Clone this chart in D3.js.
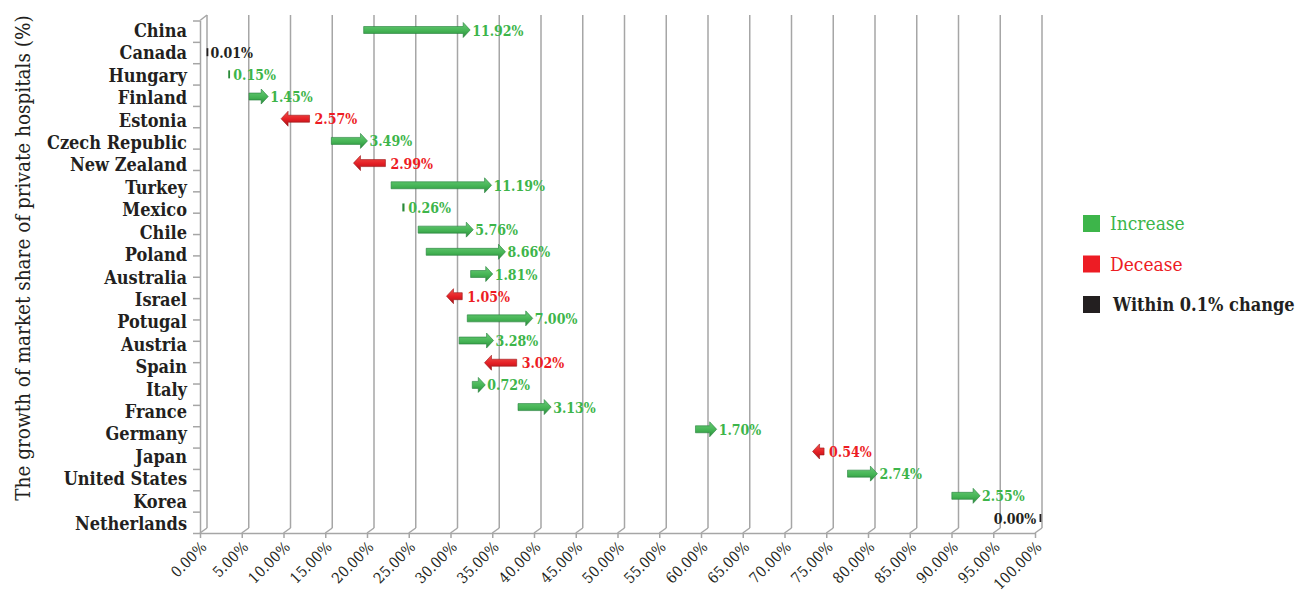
<!DOCTYPE html>
<html>
<head>
<meta charset="utf-8">
<script src="https://cdn.jsdelivr.net/npm/d3@7"></script>
<style>
  body { margin: 0; background: #fff; }
  svg text { font-family: "DejaVu Serif Condensed", "DejaVu Serif", serif; }
</style>
</head>
<body>
<div class="chart"></div>
<script>
// countries, top to bottom
var countries = ["China", "Canada", "Hungary", "Finland", "Estonia", "Czech Republic", "New Zealand",
  "Turkey", "Mexico", "Chile", "Poland", "Australia", "Israel", "Potugal", "Austria", "Spain",
  "Italy", "France", "Germany", "Japan", "United States", "Korea", "Netherlands"];

// market share where the arrow starts (%)
var startShare = [18.76, 0.04, 2.64, 5.04, 12.28, 14.89, 21.37, 22.05, 23.49, 25.29, 26.25, 31.57,
  30.57, 31.17, 30.2, 37.09, 31.77, 37.25, 58.5, 73.9, 76.71, 89.2, 99.8];

// growth of market share (%)
var change = [11.92, 0.01, 0.15, 1.45, -2.57, 3.49, -2.99, 11.19, 0.26, 5.76, 8.66, 1.81,
  -1.05, 7.00, 3.28, -3.02, 0.72, 3.13, 1.70, -0.54, 2.74, 2.55, 0.00];

var xTicks = d3.range(0, 101, 5);
var legendItems = ["Increase", "Decease", "Within 0.1% change"];
var legendColors = ["#3db54a", "#ed1c24", "#231f20"];

var width = 1296, height = 593;
var depthX = 7, depthY = -5;   // fake 3d offset of the back wall

var svg = d3.select(".chart").append("svg")
  .attr("width", width)
  .attr("height", height);

var defs = svg.append("defs");
function grad(id, c1, c2, c3) {
  var g = defs.append("linearGradient").attr("id", id)
    .attr("x1", 0).attr("y1", 0).attr("x2", 0).attr("y2", 1);
  g.append("stop").attr("offset", "0%").attr("stop-color", c1);
  g.append("stop").attr("offset", "55%").attr("stop-color", c2);
  g.append("stop").attr("offset", "100%").attr("stop-color", c3);
}
grad("gInc", "#6ccb78", "#45b455", "#2a8a38");
grad("gDec", "#f4524c", "#e31e24", "#a3161a");

var floorY = 533;
var xFront = d3.scaleLinear().domain([0, 100]).range([200, 1035]);
var xBack = d3.scaleLinear().domain([0, 100]).range([200 + depthX, 1035 + depthX]);
var yTick = d3.scaleLinear().domain([0, 24]).range([20.5, floorY]);
var yRow = d3.scalePoint().domain(countries).range([30, 518]);
var yLabel = d3.scalePoint().domain(countries).range([37, 530]);

// back wall gridlines + floor diagonals
var grid = svg.append("g").attr("class", "grid");
xTicks.forEach(function (t) {
  grid.append("line")
    .attr("x1", xBack(t)).attr("x2", xBack(t))
    .attr("y1", 15).attr("y2", floorY + depthY)
    .attr("stroke", "#a6a6a6").attr("stroke-width", 1.5);
  grid.append("line")
    .attr("x1", xFront(t)).attr("x2", xBack(t))
    .attr("y1", floorY).attr("y2", floorY + depthY)
    .attr("stroke", "#a6a6a6").attr("stroke-width", 1.5);
});
// left wall top edge
grid.append("line")
  .attr("x1", xFront(0)).attr("x2", xBack(0))
  .attr("y1", yTick(0)).attr("y2", 15)
  .attr("stroke", "#a6a6a6").attr("stroke-width", 1.5);

// x axis (front floor edge)
var xAxis = svg.append("g")
  .attr("transform", "translate(0," + floorY + ")")
  .call(d3.axisBottom(xFront).tickValues(xTicks).tickSize(5).tickSizeOuter(0)
    .tickFormat(function (d) { return d3.format(".2f")(d) + "%"; }));
xAxis.select(".domain").attr("stroke", "#a6a6a6").attr("stroke-width", 1.5);
xAxis.selectAll(".tick line").attr("stroke", "#a6a6a6").attr("stroke-width", 1.5);
xAxis.selectAll(".tick text")
  .attr("fill", "#231f20")
  .style("font-size", "15px")
  .attr("text-anchor", "end")
  .attr("dy", null)
  .attr("y", 0)
  .attr("transform", "translate(7,15) rotate(-45)");

// y axis (left wall front edge)
var yAxis = svg.append("g")
  .attr("transform", "translate(" + xFront(0) + ",0)")
  .call(d3.axisLeft(yTick).tickValues(d3.range(0, 25)).tickSize(7).tickSizeOuter(0).tickFormat(""));
yAxis.select(".domain").attr("stroke", "#a6a6a6").attr("stroke-width", 1.5);
yAxis.selectAll(".tick line").attr("stroke", "#a6a6a6").attr("stroke-width", 1.5);

// country labels
svg.append("g").selectAll("text")
  .data(countries)
  .enter().append("text")
  .attr("x", 187)
  .attr("y", function (d) { return yLabel(d); })
  .attr("text-anchor", "end")
  .attr("fill", "#231f20")
  .style("font-size", "18px")
  .style("font-weight", "bold")
  .text(function (d) { return d; });

// axis title
svg.append("text")
  .attr("transform", "translate(30,258) rotate(-90)")
  .attr("text-anchor", "middle")
  .attr("fill", "#231f20")
  .style("font-size", "20.5px")
  .text("The growth of market share of private hospitals (%)");

// arrows
var rows = countries.map(function (c, i) {
  var v = change[i];
  var kind = Math.abs(v) <= 0.1 ? "flat" : (v > 0 ? "inc" : "dec");
  return { name: c, start: startShare[i], end: startShare[i] + v, change: v, kind: kind };
});

var fillOf = { inc: "url(#gInc)", dec: "url(#gDec)", flat: "#231f20" };
var strokeOf = { inc: "#24803a", dec: "#9b1518", flat: "#231f20" };
var textOf = { inc: "#3db54a", dec: "#ed1c24", flat: "#231f20" };

var bh = 3.5, hh = 7.5, hl = 7;
function arrowPath(d) {
  var cy = yRow(d.name);
  var x0 = xBack(d.start), x1 = xBack(d.end);
  var dir = d.change >= 0 ? 1 : -1;
  var pts = [[x0, cy - bh], [x1, cy - bh], [x1, cy - hh], [x1 + dir * hl, cy],
    [x1, cy + hh], [x1, cy + bh], [x0, cy + bh]];
  return "M" + pts.join("L") + "Z";
}

var marks = svg.append("g").selectAll("g.row")
  .data(rows)
  .enter().append("g").attr("class", "row");

marks.filter(function (d) { return Math.abs(d.change) >= 0.3; })
  .append("path")
  .attr("d", arrowPath)
  .attr("fill", function (d) { return fillOf[d.kind]; })
  .attr("stroke", function (d) { return strokeOf[d.kind]; })
  .attr("stroke-width", 0.6);

marks.filter(function (d) { return Math.abs(d.change) < 0.3; })
  .append("rect")
  .attr("x", function (d) { return xBack(d.start) - 0.8; })
  .attr("y", function (d) { return yRow(d.name) - 4; })
  .attr("width", function (d) { return Math.max(1.8, xBack(d.end) - xBack(d.start)); })
  .attr("height", 8)
  .attr("fill", function (d) { return d.kind === "flat" ? "#231f20" : "#2a8a38"; });

marks.append("text")
  .attr("x", function (d) {
    if (d.start > 95) return xBack(d.start) - 4;
    if (Math.abs(d.change) < 0.3) return Math.max(xBack(d.start), xBack(d.end)) + 3;
    if (d.change > 0) return xBack(d.end) + hl + 2;
    return xBack(d.start) + 5;
  })
  .attr("y", function (d) { return yRow(d.name) + 5.5; })
  .attr("text-anchor", function (d) { return d.start > 95 ? "end" : "start"; })
  .attr("fill", function (d) { return textOf[d.kind]; })
  .style("font-size", "14px")
  .style("font-weight", "bold")
  .text(function (d) { return d3.format(".2f")(Math.abs(d.change)) + "%"; });

// legend
var legend = svg.append("g").selectAll("g")
  .data(legendItems)
  .enter().append("g")
  .attr("transform", function (d, i) { return "translate(1083," + (215 + i * 40.5) + ")"; });
legend.append("rect")
  .attr("width", 17).attr("height", 17)
  .attr("fill", function (d, i) { return legendColors[i]; });
legend.append("text")
  .attr("x", function (d, i) { return i === 2 ? 30 : 27; })
  .attr("y", 15)
  .attr("fill", function (d, i) { return legendColors[i]; })
  .style("font-size", function (d, i) { return i === 2 ? "18px" : "19px"; })
  .style("font-weight", function (d, i) { return i === 2 ? "bold" : "normal"; })
  .text(function (d) { return d; });
</script>
</body>
</html>
